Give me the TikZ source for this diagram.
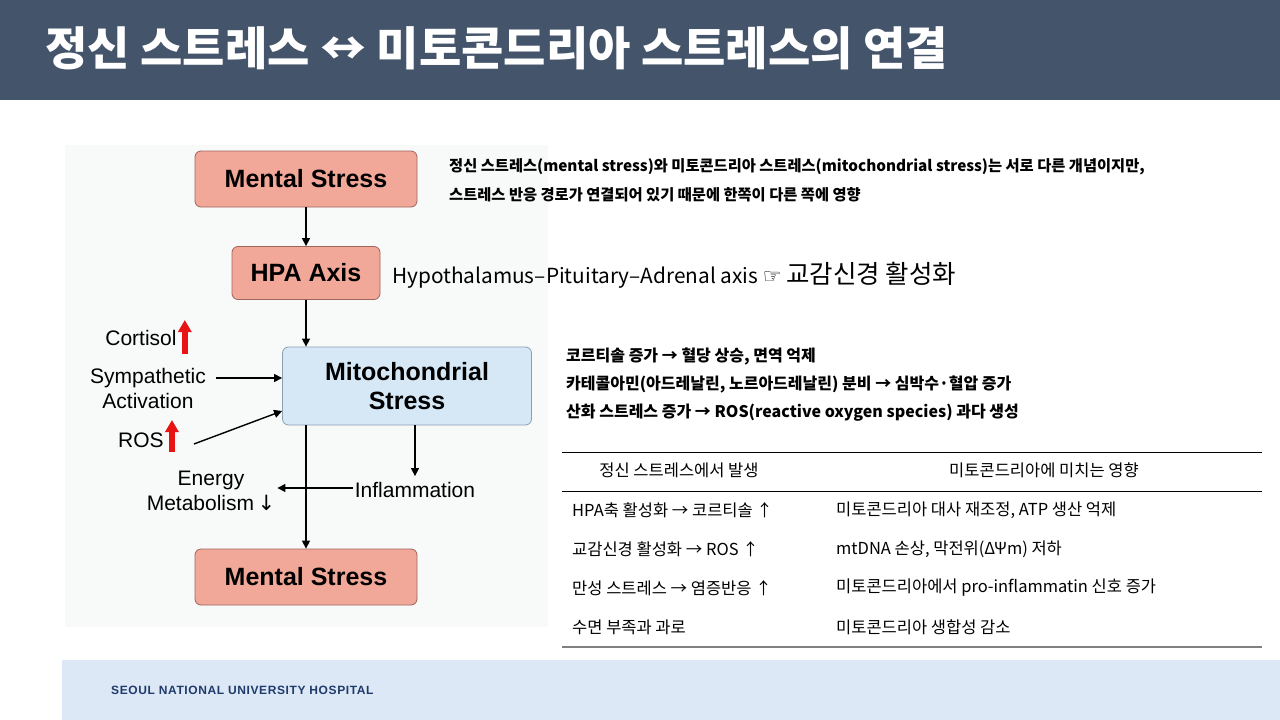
\documentclass[tikz,border=0pt]{standalone}
\usepackage{fontspec}
\setmainfont{Noto Sans CJK KR}
\newfontfamily\dgfont{Liberation Sans}
\newfontfamily\symfont{DejaVu Sans}
\usetikzlibrary{arrows.meta,positioning,calc}
\definecolor{titlebar}{RGB}{68,84,106}
\definecolor{footband}{RGB}{220,232,245}
\definecolor{footnavy}{RGB}{31,58,107}
\definecolor{salmon}{RGB}{241,168,152}
\definecolor{salmonedge}{RGB}{160,100,90}
\definecolor{mitofill}{RGB}{214,232,246}
\definecolor{mitoedge}{RGB}{140,160,180}
\definecolor{panelgrey}{RGB}{248,249,249}
\definecolor{uparrow}{RGB}{232,20,20}
\definecolor{rulegrey}{RGB}{128,128,128}

\begin{document}
\begin{tikzpicture}[x=1pt,y=-1pt,
  msbox/.style={draw=salmonedge,fill=salmon,rounded corners=6pt,line width=0.8pt,
                font=\dgfont\fontsize{25}{28}\selectfont\bfseries,
                minimum width=222pt,minimum height=56pt},
  hpabox/.style={msbox,minimum width=148pt,minimum height=53pt},
  mitobox/.style={draw=mitoedge,fill=mitofill,rounded corners=6pt,line width=0.8pt,
                  align=center,font=\dgfont\fontsize{25}{29}\selectfont\bfseries,
                  minimum width=249pt,minimum height=78pt},
  lbl/.style={font=\dgfont\fontsize{21}{25}\selectfont,align=center,inner sep=2pt},
  arr/.style={-{Triangle[length=8pt,width=8pt]},line width=1.4pt},
  redup/.style={-{Triangle[length=12pt,width=13pt]},line width=6pt,draw=uparrow},
  body/.style={font=\fontsize{16}{19}\selectfont\bfseries,anchor=west,inner sep=0pt},
  cell/.style={font=\fontsize{16.5}{19}\selectfont,anchor=west,inner sep=0pt}]

\useasboundingbox (0,0) rectangle (1280,720);
\fill[white] (0,0) rectangle (1280,720);
\fill[titlebar] (0,0) rectangle (1280,100);
\fill[footband] (62,660) rectangle (1280,720);
\fill[panelgrey] (65,145) rectangle (548,627);

\node[anchor=west,text=white,inner sep=0pt,font=\fontsize{46}{52}\selectfont\bfseries]
  (title) at (45,48) {정신 스트레스 ↔ 미토콘드리아 스트레스의 연결};

% flow
\node[msbox] (ms1) at (306,179) {Mental Stress};
\node[hpabox] (hpa) at (306,273) {HPA Axis};
\node[mitobox] (mito) at (407,386) {Mitochondrial\\Stress};
\node[msbox] (ms2) at (306,577) {Mental Stress};

\node[lbl] (cort) at (141,338) {Cortisol};
\node[lbl] (symp) at (148,388) {Sympathetic\\Activation};
\node[lbl] (ros) at (141,440) {ROS};
\node[lbl] (energy) at (211,491) {Energy\\Metabolism\,{\symfont ↓}};
\node[lbl] (infl) at (415,490) {Inflammation};

\draw[redup] ([xshift=6pt,yshift=-16pt]cort.east) -- ([xshift=6pt,yshift=18pt]cort.east);
\draw[redup] ([xshift=6pt,yshift=-12pt]ros.east) -- ([xshift=6pt,yshift=20pt]ros.east);

\draw[arr] (ms1) -- (hpa);
\draw[arr] (hpa.south) -- (hpa.south |- mito.north);
\draw[arr] (mito.south -| ms2.north) -- (ms2.north);
\draw[arr] (mito.south -| infl.north) -- ([yshift=4pt]infl.north);
\draw[arr] ([yshift=2pt]infl.west) -- ([yshift=2pt]infl.west -| energy.east);
\draw[arr] ([xshift=8pt,yshift=10pt]symp.east) -- ([yshift=8pt]mito.west);
\draw[arr] ([xshift=28pt,yshift=-4pt]ros.east) -- ([yshift=-25pt]mito.west);

% notes
\node[body,font=\fontsize{15.3}{18}\selectfont\bfseries] (intro1) at (449,167) {정신 스트레스(mental stress)와 미토콘드리아 스트레스(mitochondrial stress)는 서로 다른 개념이지만,};
\node[body,font=\fontsize{15.3}{18}\selectfont\bfseries] (intro2) at (449,195) {스트레스 반응 경로가 연결되어 있기 때문에 한쪽이 다른 쪽에 영향};
\node[anchor=west,inner sep=0pt,font=\fontsize{20.8}{24}\selectfont]
  (hpanote) at (392,275) {Hypothalamus–Pituitary–Adrenal axis {\symfont ☞} {\fontsize{25.5}{28}\selectfont 교감신경 활성화}};

\node[body] (fx1) at (566,357) {코르티솔 증가 → 혈당 상승, 면역 억제};
\node[body] (fx2) at (566,385) {카테콜아민(아드레날린, 노르아드레날린) 분비 → 심박수·혈압 증가};
\node[body] (fx3) at (566,413) {산화 스트레스 증가 → ROS(reactive oxygen species) 과다 생성};

% table
\draw[line width=1pt] (562,452) -- (1262,452);
\draw[line width=1pt] (562,491) -- (1262,491);
\draw[line width=2.5pt,rulegrey] (562,647) -- (1262,647);
\node[cell,anchor=center] (hd1) at (679,470) {정신 스트레스에서 발생};
\node[cell,anchor=center] (hd2) at (1044,470) {미토콘드리아에 미치는 영향};
\node[cell] (r1a) at (572,510) {HPA축 활성화 → 코르티솔 ↑};
\node[cell] (r1b) at (836,510) {미토콘드리아 대사 재조정, ATP 생산 억제};
\node[cell] (r2a) at (572,549) {교감신경 활성화 → ROS ↑};
\node[cell] (r2b) at (836,549) {mtDNA 손상, 막전위(ΔΨm) 저하};
\node[cell] (r3a) at (572,588) {만성 스트레스 → 염증반응 ↑};
\node[cell] (r3b) at (836,588) {미토콘드리아에서 pro-inflammatin 신호 증가};
\node[cell] (r4a) at (572,627) {수면 부족과 과로};
\node[cell] (r4b) at (836,627) {미토콘드리아 생합성 감소};

\node[anchor=west,inner sep=0pt,text=footnavy,font=\dgfont\fontsize{12}{14}\selectfont\bfseries\addfontfeature{LetterSpace=5}]
  (snuh) at (111,690) {SEOUL NATIONAL UNIVERSITY HOSPITAL};
\end{tikzpicture}
\end{document}
